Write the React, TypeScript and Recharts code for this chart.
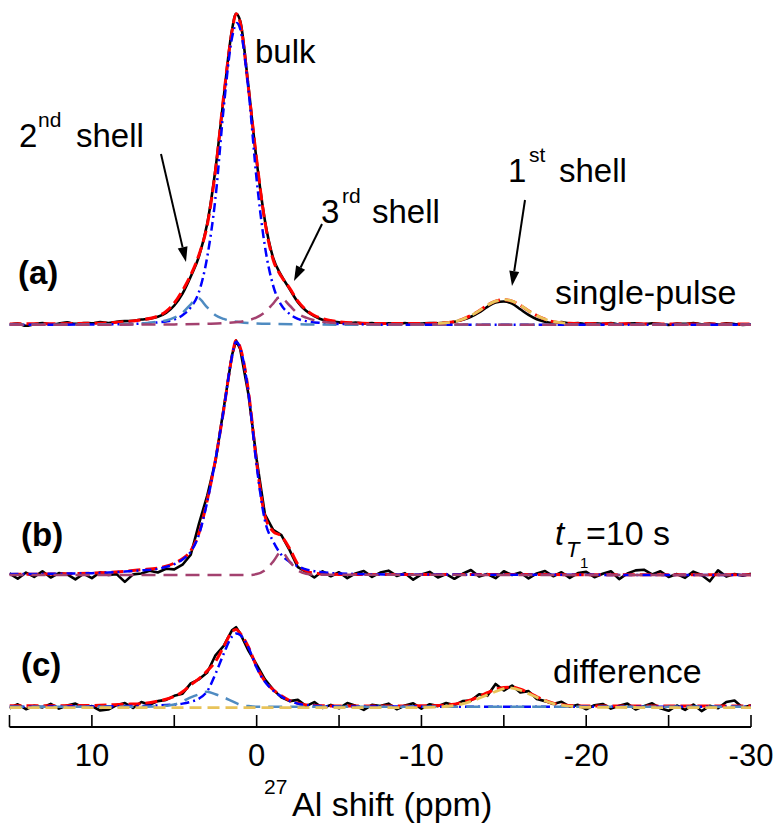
import { LineChart, Line, XAxis, YAxis } from "recharts";

// shared ppm grid for the measured (noisy) spectra
const PPM = [
  15, 14.5, 14, 13.5, 13, 12.5, 12, 11.5, 11, 10.5,
  10, 9.5, 9, 8.5, 8, 7.5, 7, 6.5, 6, 5.5,
  5, 4.5, 4, 3.5, 3, 2.5, 2, 1.5, 1.25, 1,
  0.5, 0, -0.5, -1, -1.5, -2, -2.5, -3, -3.5, -4,
  -4.5, -5, -5.5, -6, -6.5, -7, -7.5, -8, -8.5, -9,
  -9.5, -10, -10.5, -11, -11.5, -12, -12.5, -13, -13.5, -14,
  -14.5, -15, -15.5, -16, -16.5, -17, -17.5, -18, -18.5, -19,
  -19.5, -20, -20.5, -21, -21.5, -22, -22.5, -23, -23.5, -24,
  -24.5, -25, -25.5, -26, -26.5, -27, -27.5, -28, -28.5, -29,
  -29.5, -30,
];

// (a) single-pulse
const BLACK_A = [
  0.0, 0.4, -0.3, 0.2, 0.6, 0.1, 0.4, 0.8, 0.3, 0.6,
  0.5, 0.9, 0.6, 1.0, 1.2, 1.3, 1.7, 2.0, 2.6, 3.8,
  6.2, 10.0, 15.5, 22.0, 32.5, 50.0, 73.0, 94.5, 99.8, 97.5,
  76.5, 52.5, 33.5, 21.5, 15.8, 11.5, 7.3, 4.5, 2.8, 1.6,
  1.2, 0.8, 0.5, 0.7, 0.4, 0.6, 0.2, 0.5, 0.3, 0.6,
  0.2, 0.4, 0.6, 0.5, 0.7, 1.0, 1.6, 2.6, 4.0, 5.8,
  7.2, 7.5, 6.8, 5.0, 3.2, 1.8, 1.0, 0.6, 0.9, 0.4,
  0.6, 0.2, 0.5, 0.3, 0.6, 0.1, 0.4, 0.5, 0.2, 0.5,
  0.3, 0.0, 0.4, 0.3, 0.6, 0.2, 0.4, 0.1, 0.5, 0.3,
  0.0, 0.2,
];
const FIT_A_X = [15, 10, 8, 7, 6, 5.5, 5, 4.5, 4, 3.5, 3, 2.5, 2, 1.5, 1.25, 1, 0.5, 0, -0.5, -1, -1.5, -2, -2.5, -3, -3.5, -4, -5, -6, -8, -10, -11, -12, -12.5, -13, -13.5, -14, -14.5, -15, -15.5, -16, -16.5, -17, -17.5, -18, -19, -20, -25, -30];
const FIT_A_Y = [0.3, 0.5, 1.0, 1.6, 2.8, 4.3, 7.0, 11.0, 16.0, 22.5, 32.0, 49.5, 73.5, 94.0, 99.8, 97.0, 76.0, 53.0, 33.0, 20.9, 15.5, 11.8, 7.6, 4.8, 3.0, 2.0, 1.0, 0.6, 0.4, 0.4, 0.5, 1.0, 1.8, 3.0, 4.5, 6.3, 7.6, 8.1, 7.6, 6.3, 4.5, 3.0, 1.8, 1.0, 0.5, 0.4, 0.3, 0.3];
const BULK_A_X = [15, 8, 7, 6, 5.5, 5, 4.5, 4, 3.5, 3, 2.5, 2, 1.5, 1.2, 1, 0.5, 0, -0.5, -1, -1.5, -2, -2.5, -3, -4, -5, -6, -8, -30];
const BULK_A_Y = [0, 0.2, 0.4, 0.8, 1.1, 1.7, 3.1, 5.6, 10.6, 21.8, 40.7, 69.7, 92.0, 96.8, 94.9, 75.5, 46.5, 25.2, 12.6, 6.3, 3.5, 1.9, 1.2, 0.6, 0.3, 0.2, 0, 0];
const SHELL2_A_X = [15, 10, 8, 7, 6, 5.5, 5, 4.5, 4, 3.6, 3, 2.5, 2, 1.5, 1, 0, -1, -3, -6, -30];
const SHELL2_A_Y = [0, 0.1, 0.25, 0.4, 1.0, 1.4, 2.3, 3.9, 6.6, 8.7, 5.6, 3.1, 1.9, 1.2, 0.8, 0.45, 0.3, 0.15, 0.05, 0];
const SHELL3_A_X = [15, 5, 3, 2, 1, 0.5, 0, -0.5, -1, -1.4, -2, -2.5, -3, -3.5, -4, -5, -6, -8, -30];
const SHELL3_A_Y = [0, 0.15, 0.35, 0.55, 1.0, 1.5, 2.4, 4.1, 6.8, 9.0, 6.2, 3.6, 2.3, 1.5, 1.0, 0.5, 0.3, 0.12, 0];
const SHELL1_A_X = [-11, -12, -12.5, -13, -13.5, -14, -14.5, -15, -15.5, -16, -16.5, -17, -17.5, -18, -19];
const SHELL1_A_Y = [0.5, 1.0, 1.8, 3.0, 4.5, 6.3, 7.6, 8.1, 7.6, 6.3, 4.5, 3.0, 1.8, 1.0, 0.5];

// (b) t_T1 = 10 s
const BLACK_B = [
  0.5, -1.2, 0.8, -0.6, 1.2, -0.8, 0.6, 0.2, -1.4, 0.4,
  -1.0, 0.9, 0.0, 0.3, -2.2, 0.2, 0.5, 1.4, 0.8, 2.0,
  1.8, 3.3, 6.5, 16.5, 25.5, 36.5, 53.5, 70.5, 75.2, 72.5,
  58.0, 37.0, 19.5, 14.5, 12.8, 8.0, 2.5, 1.0, -0.8, 1.2,
  -0.4, 0.9, -1.0, 0.5, 1.3, -0.6, 0.8, 1.4, -0.3, 0.6,
  -1.5, 0.2, 1.0, -0.8, 0.3, -1.2, 0.4, 1.6, -0.5, 0.3,
  -1.0, 1.2, 0.0, 0.8, -1.1, 0.5, 1.3, -0.4, 0.9, -0.9,
  0.6, 1.0, -0.7, 0.4, 1.2, -1.3, 0.5, 1.5, 1.7, 0.2,
  1.2, -0.6, 0.3, -0.9, 1.1, 0.0, -2.0, 1.5, -0.5, 0.3,
  -0.2, 0.4,
];
const FIT_B_X = [15, 10, 8, 7, 6, 5.5, 5, 4.5, 4, 3.5, 3, 2.5, 2, 1.5, 1.25, 1, 0.5, 0, -0.5, -1, -1.5, -2, -2.5, -3, -3.5, -4, -5, -30];
const FIT_B_Y = [0.2, 0.6, 1.2, 1.7, 2.2, 2.8, 3.8, 5.2, 7.8, 13.5, 24.0, 37.0, 53.0, 70.0, 75.2, 73.0, 59.0, 36.0, 19.0, 14.0, 12.5, 8.5, 3.5, 1.3, 0.6, 0.4, 0.2, 0.1];
const BULK_B_X = [15, 10, 8, 7, 6, 5.5, 5, 4.5, 4, 3.5, 3, 2.5, 2, 1.5, 1.25, 1, 0.5, 0, -0.5, -1, -1.5, -2, -2.5, -3, -4, -5, -8, -30];
const BULK_B_Y = [0.3, 0.6, 1.1, 1.5, 2.0, 2.6, 3.5, 5.0, 7.5, 13.0, 23.5, 37.0, 53.0, 70.0, 74.8, 72.8, 58.5, 35.0, 17.5, 10.8, 6.5, 4.2, 2.8, 1.8, 0.9, 0.5, 0.2, 0];
const SHELL3_B_X = [15, 0.5, 0, -0.5, -1, -1.5, -2, -2.5, -3, -3.5, -30];
const SHELL3_B_Y = [0, 0, 0.3, 1.5, 4.3, 7.5, 4.3, 1.5, 0.4, 0.1, 0];

// (c) difference
const BLACK_C = [
  -0.5, 0.8, -0.8, 0.3, -0.2, 0.9, -0.6, 0.4, 1.0, -0.3,
  0.2, -1.2, -0.9, 0.5, 1.2, -0.4, 1.5, 0.6, 1.8, 2.2,
  3.5, 4.2, 7.5, 8.8, 11.0, 16.5, 19.5, 24.5, 25.5, 23.5,
  18.0, 13.5, 8.8, 5.5, 3.0, 1.8, 2.2, 0.2, 1.5, -0.4,
  0.6, -0.5, 1.2, 0.3, -1.0, 0.6, 0.2, 1.0, -0.8, 0.4,
  1.1, -0.6, 0.8, 0.2, 1.2, 0.5, 1.8, 2.0, 4.0, 3.5,
  7.3, 5.2, 6.8, 4.6, 5.0, 2.5, 1.8, 0.9, 1.6, 0.0,
  0.6, -0.8, 0.5, 0.9, -0.6, 0.3, 1.0, -0.9, 0.2, 1.1,
  -0.5, -1.3, 0.4, -1.0, 0.7, -1.4, 0.3, -0.5, 1.5, 2.0,
  -0.3, 0.5,
];
const FIT_C_X = [15, 10, 8, 7, 6, 5.5, 5, 4.5, 4, 3.5, 3, 2.5, 2, 1.5, 1.25, 1, 0.5, 0, -0.5, -1, -1.5, -2, -2.5, -3, -4, -6, -10, -11, -12, -12.5, -13, -13.5, -14, -14.5, -15, -15.5, -16, -16.5, -17, -17.5, -18, -19, -20, -30];
const FIT_C_Y = [0.3, 0.4, 0.8, 1.0, 1.8, 2.4, 3.3, 4.8, 7.0, 9.0, 11.5, 14.5, 19.3, 24.0, 24.8, 23.5, 19.2, 12.8, 8.2, 5.5, 3.5, 2.0, 1.1, 0.6, 0.3, 0.2, 0.3, 0.4, 0.8, 1.4, 2.2, 3.3, 4.5, 5.6, 6.2, 6.3, 5.6, 4.5, 3.2, 2.0, 1.1, 0.4, 0.2, 0.2];
const BULK_C_X = [15, 8, 6, 5, 4.5, 4, 3.5, 3, 2.5, 2, 1.5, 1.25, 1, 0.5, 0, -0.5, -1, -1.5, -2, -2.5, -3, -4, -6, -30];
const BULK_C_Y = [0, 0.2, 0.4, 0.7, 1.0, 1.6, 2.6, 5.0, 10.5, 17.0, 22.5, 23.5, 23.0, 19.0, 12.5, 8.0, 5.2, 3.3, 1.9, 1.0, 0.5, 0.2, 0.05, 0];
const SHELL2_C_X = [15, 8, 6, 5.5, 5, 4.5, 4, 3.5, 3, 2.5, 2, 1.5, 1, 0.5, 0, -30];
const SHELL2_C_Y = [0, 0, 0.1, 0.3, 0.7, 1.7, 3.0, 4.0, 4.8, 4.0, 3.0, 1.8, 0.6, 0.2, 0, 0];
const SHELL1_C_X = [15, -10, -11, -12, -12.5, -13, -13.5, -14, -14.5, -15, -15.3, -15.5, -16, -16.5, -17, -17.5, -18, -19, -20, -30];
const SHELL1_C_Y = [-0.3, -0.3, -0.1, 0.4, 0.9, 1.7, 2.7, 3.8, 4.9, 5.8, 6.1, 6.0, 5.3, 4.2, 3.0, 1.9, 1.0, 0.2, -0.2, -0.3];

// vertical stacking of the three spectra
const OFFSET_A = 122.5;
const OFFSET_B = 42.25;
const OFFSET_C = 0;

const X_TICKS = [15, 10, 5, 0, -5, -10, -15, -20, -25, -30];

const FONT = "'Liberation Sans', Arial, Helvetica, sans-serif";
const BLACK = "#000000";
const RED = "#ff0000";
const BLUE = "#0000ff";
const STEEL = "#4f8bc1";
const PURPLE = "#a3416f";
const YELLOW = "#e8c35a";

type Series = {
  key: string;
  xs: number[];
  ys: number[];
  offset: number;
  color: string;
  width: number;
  dash?: string;
  curve: "linear" | "monotone";
};

const solid = (key: string, ys: number[], offset: number, curve: "linear" | "monotone"): Series => ({
  key, xs: PPM, ys, offset, color: BLACK, width: 2.6, curve,
});

const SERIES: Series[] = [
  solid("blackA", BLACK_A, OFFSET_A, "monotone"),
  { key: "fitA", xs: FIT_A_X, ys: FIT_A_Y, offset: OFFSET_A, color: RED, width: 3, dash: "12 5", curve: "monotone" },
  { key: "bulkA", xs: BULK_A_X, ys: BULK_A_Y, offset: OFFSET_A, color: BLUE, width: 2.5, dash: "9 4 2 4", curve: "monotone" },
  { key: "shell2A", xs: SHELL2_A_X, ys: SHELL2_A_Y, offset: OFFSET_A, color: STEEL, width: 2.5, dash: "14 8", curve: "monotone" },
  { key: "shell3A", xs: SHELL3_A_X, ys: SHELL3_A_Y, offset: OFFSET_A, color: PURPLE, width: 2.5, dash: "14 8", curve: "monotone" },
  { key: "shell1A", xs: SHELL1_A_X, ys: SHELL1_A_Y, offset: OFFSET_A, color: YELLOW, width: 2.8, dash: "12 6", curve: "monotone" },

  solid("blackB", BLACK_B, OFFSET_B, "linear"),
  { key: "fitB", xs: FIT_B_X, ys: FIT_B_Y, offset: OFFSET_B, color: RED, width: 3, dash: "12 5", curve: "monotone" },
  { key: "bulkB", xs: BULK_B_X, ys: BULK_B_Y, offset: OFFSET_B, color: BLUE, width: 2.5, dash: "9 4 2 4", curve: "monotone" },
  { key: "shell3B", xs: SHELL3_B_X, ys: SHELL3_B_Y, offset: OFFSET_B, color: PURPLE, width: 2.5, dash: "14 8", curve: "monotone" },

  solid("blackC", BLACK_C, OFFSET_C, "linear"),
  { key: "fitC", xs: FIT_C_X, ys: FIT_C_Y, offset: OFFSET_C, color: RED, width: 3, dash: "12 5", curve: "monotone" },
  { key: "bulkC", xs: BULK_C_X, ys: BULK_C_Y, offset: OFFSET_C, color: BLUE, width: 2.5, dash: "9 4 2 4", curve: "monotone" },
  { key: "shell2C", xs: SHELL2_C_X, ys: SHELL2_C_Y, offset: OFFSET_C, color: STEEL, width: 2.5, dash: "14 8", curve: "monotone" },
  { key: "shell1C", xs: SHELL1_C_X, ys: SHELL1_C_Y, offset: OFFSET_C, color: YELLOW, width: 2.8, dash: "12 6", curve: "monotone" },
];

const toPoints = (s: Series) => s.xs.map((x, i) => ({ x, y: s.ys[i] + s.offset }));

function PpmTick(props: any) {
  const { x, y, payload } = props;
  const v = payload.value as number;
  return (
    <g>
      <line x1={x} x2={x} y1={y - 12} y2={y} stroke={BLACK} strokeWidth={1.6} />
      {v % 10 === 0 && (
        <text x={x} y={y + 39} textAnchor="middle" fontSize={31} fontFamily={FONT} fill={BLACK}>
          {v}
        </text>
      )}
    </g>
  );
}

function Arrow({ x1, y1, x2, y2 }: { x1: number; y1: number; x2: number; y2: number }) {
  const a = Math.atan2(y2 - y1, x2 - x1);
  const len = 15;
  const half = 5;
  const bx = x2 - len * Math.cos(a);
  const by = y2 - len * Math.sin(a);
  const px = -Math.sin(a) * half;
  const py = Math.cos(a) * half;
  return (
    <g>
      <line x1={x1} y1={y1} x2={bx} y2={by} stroke={BLACK} strokeWidth={2} />
      <polygon points={`${x2},${y2} ${bx + px},${by + py} ${bx - px},${by - py}`} fill={BLACK} />
    </g>
  );
}

function Annotations() {
  const t = { fontFamily: FONT, fill: BLACK };
  return (
    <svg width={780} height={824} style={{ position: "absolute", left: 0, top: 0, pointerEvents: "none" }}>
      <text x={255} y={63} fontSize={33} {...t}>bulk</text>

      <text x={19} y={147} fontSize={33} {...t}>2</text>
      <text x={38} y={127} fontSize={21} {...t}>nd</text>
      <text x={76} y={147} fontSize={33} {...t}>shell</text>
      <Arrow x1={161} y1={154} x2={186} y2={262} />

      <text x={321} y={223} fontSize={33} {...t}>3</text>
      <text x={342} y={203} fontSize={21} {...t}>rd</text>
      <text x={372} y={223} fontSize={33} {...t}>shell</text>
      <Arrow x1={322} y1={224} x2={294} y2={281} />

      <text x={508} y={182} fontSize={33} {...t}>1</text>
      <text x={529} y={162} fontSize={21} {...t}>st</text>
      <text x={559} y={182} fontSize={33} {...t}>shell</text>
      <Arrow x1={525} y1={200} x2={512} y2={286} />

      <text x={555} y={304} fontSize={34} {...t}>single-pulse</text>
      <text x={18} y={284} fontSize={33} fontWeight="bold" {...t}>(a)</text>

      <text x={21} y={546} fontSize={33} fontWeight="bold" {...t}>(b)</text>
      <text x={555} y={545} fontSize={33} fontStyle="italic" {...t}>t</text>
      <text x={566} y={557} fontSize={22} fontStyle="italic" {...t}>T</text>
      <text x={580} y={568} fontSize={15} {...t}>1</text>
      <text x={586} y={545} fontSize={34} {...t}>=10 s</text>

      <text x={21} y={676} fontSize={33} fontWeight="bold" {...t}>(c)</text>
      <text x={553} y={683} fontSize={34} {...t}>difference</text>

      <text x={264} y={794} fontSize={21} {...t}>27</text>
      <text x={292} y={816} fontSize={34} {...t}>Al shift (ppm)</text>
    </svg>
  );
}

export default function App() {
  return (
    <div style={{ position: "absolute", left: 0, top: 0, width: 780, height: 824, background: "#fff" }}>
      <LineChart width={780} height={824} margin={{ top: 10, right: 29, bottom: 47, left: 9.5 }}>
        <XAxis
          type="number"
          dataKey="x"
          domain={[-30, 15]}
          reversed
          allowDataOverflow
          ticks={X_TICKS}
          interval={0}
          height={50}
          tickSize={0}
          tickMargin={0}
          tickLine={false}
          axisLine={{ stroke: BLACK, strokeWidth: 2 }}
          tick={<PpmTick />}
        />
        <YAxis type="number" hide domain={[-6.5, 223.5]} allowDataOverflow />
        {SERIES.map((s) => (
          <Line
            key={s.key}
            data={toPoints(s)}
            dataKey="y"
            type={s.curve}
            stroke={s.color}
            strokeWidth={s.width}
            strokeDasharray={s.dash}
            strokeLinejoin="round"
            dot={false}
            activeDot={false}
            legendType="none"
            isAnimationActive={false}
          />
        ))}
      </LineChart>
      <Annotations />
    </div>
  );
}
